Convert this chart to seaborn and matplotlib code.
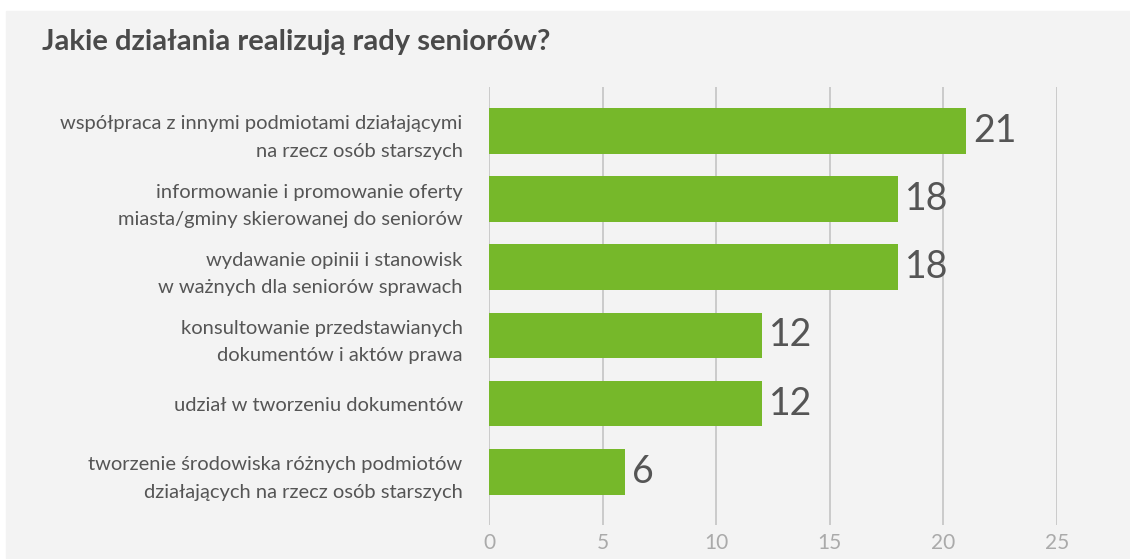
import matplotlib
matplotlib.use("Agg")
import matplotlib.pyplot as plt
import pandas as pd
import seaborn as sns

# dane
categories = [
    "współpraca z innymi podmiotami działającymi\nna rzecz osób starszych",
    "informowanie i promowanie oferty\nmiasta/gminy skierowanej do seniorów",
    "wydawanie opinii i stanowisk\nw ważnych dla seniorów sprawach",
    "konsultowanie przedstawianych\ndokumentów i aktów prawa",
    "udział w tworzeniu dokumentów",
    "tworzenie środowiska różnych podmiotów\ndziałających na rzecz osób starszych",
]
values = [21, 18, 18, 12, 12, 6]
x_ticks = [0, 5, 10, 15, 20, 25]
title = "Jakie działania realizują rady seniorów?"

BG = "#f3f3f3"
GREEN = "#76b82a"

df = pd.DataFrame({"kategoria": categories, "liczba": values})

sns.set_theme(style="white")
plt.rcParams["font.family"] = ["Lato", "DejaVu Sans"]

fig = plt.figure(figsize=(11.3, 5.59), dpi=100, facecolor="white")
# szare tło karty
fig.patches.append(plt.Rectangle((6 / 1130, 0.002), 1, 1 - 11 / 559 - 0.002,
                                 transform=fig.transFigure, color=BG, zorder=-10))

ax = fig.add_axes([489 / 1130, 1 - 525 / 559, (1057 - 489) / 1130, (525 - 87) / 559])
ax.patch.set_alpha(0)

sns.barplot(data=df, y="kategoria", x="liczba", orient="h", color=GREEN,
            saturation=1, width=0.67, linewidth=0, ax=ax, zorder=3)

ax.set_xlim(0, 25)
ax.set_ylim(5.78, -0.645)
ax.set_xticks(x_ticks)
ax.set_yticks(range(len(categories)))
ax.set_yticklabels(categories, ha="right", multialignment="right", linespacing=1.75)
ax.xaxis.grid(True, color="#c4c4c4", linewidth=1.2, zorder=0)
ax.set_axisbelow(True)
for s in ax.spines.values():
    s.set_visible(False)
ax.set_xlabel("")
ax.set_ylabel("")
ax.tick_params(axis="x", length=0, pad=6, labelsize=15, labelcolor="#aaaaaa")
ax.tick_params(axis="y", length=0, pad=19, labelsize=14.5, labelcolor="#555555")

ax.bar_label(ax.containers[0], labels=[str(v) for v in values], padding=5,
             fontsize=27, color="#555555", clip_on=False)

fig.text(42 / 1130, 1 - 42 / 559, title, fontsize=21, fontweight="bold",
         color="#4a4a4a", va="center", ha="left")

fig.savefig("out.png", dpi=100, facecolor="white")
